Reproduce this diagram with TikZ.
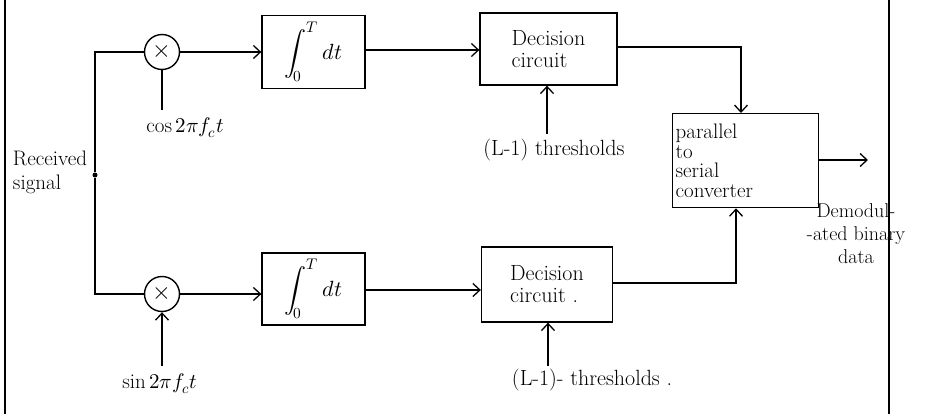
\documentclass[tikz,border=0pt]{standalone}
\usepackage{fontspec}
\usepackage{unicode-math}
\usetikzlibrary{arrows.meta}
\begin{document}
\begin{tikzpicture}[x=1pt,y=-1pt,
  fs/.style={font=\fontsize{22}{22}\selectfont},
  blk/.style={draw,line width=1.3pt,minimum width=#1,inner sep=2pt,fs},
  mult/.style={draw,circle,line width=1.4pt,minimum size=35pt,inner sep=0pt},
  wire/.style={line width=1.3pt},
  arr/.style={line width=1.3pt,-{Straight Barb[length=7pt,width=13pt]}},
  lbl/.style={fs,inner sep=1pt}]
\useasboundingbox (0,0) rectangle (933,414);
\draw[line width=2.4pt] (5,0) -- (5,414);
\draw[line width=2.4pt] (889,0) -- (889,414);
% nodes
\node[circle,fill,inner sep=0pt,minimum size=5pt] (rx) at (95,175) {};
\node[mult] (m1) at (162,52) {\fontsize{24}{24}\selectfont$\times$};
\node[mult] (m2) at (162,294) {\fontsize{24}{24}\selectfont$\times$};
\node[blk=103pt,minimum height=73pt] (i1) at (313.5,52) {$\displaystyle\int_0^T dt$};
\node[blk=103pt,minimum height=72pt] (i2) at (313.5,289) {$\displaystyle\int_0^T dt$};
\node[blk=137pt,minimum height=72pt,align=left] (d1) at (548.5,49) {Decision\\circuit};
\node[blk=131pt,minimum height=75pt,align=left] (d2) at (547,284.5) {Decision\\circuit .};
\node[blk=146pt,minimum height=94pt,align=left,anchor=north west,text width=140pt,inner sep=3pt,font=\fontsize{21}{19.5}\selectfont] (ps) at (672,113) {parallel\\to\\serial\\converter};
\node[lbl,align=left,font=\fontsize{21}{24}\selectfont] (rxl) at (50,172) {Received\\signal};
\node[lbl,font=\fontsize{21}{21}\selectfont] (cosl) at (185,128) {$\cos 2\pi f_c t$};
\node[lbl,font=\fontsize{21}{21}\selectfont] (sinl) at (160,384) {$\sin 2\pi f_c t$};
\node[lbl] (th1) at (554,150) {(L-1) thresholds};
\node[lbl] (th2) at (592,380) {(L-1)- thresholds .};
\node[lbl,align=center,font=\fontsize{20}{23}\selectfont] (out) at (856,234) {Demodul-\\-ated binary\\data};
\coordinate (tt1) at (547,134);
\coordinate (tt2) at (548,366);
\coordinate (o1) at (868,160);
\coordinate (sb) at (162,366);
\coordinate (cb) at (162,110);
% wires
\draw[wire] (rx) -- (95,52) -- (m1);
\draw[wire] (rx) -- (95,294) -- (m2);
\draw[arr] (m1) -- (i1.west|-m1);
\draw[arr] (m2) -- (i2.west|-m2);
\draw[arr] (i1.east|-0,50) -- (d1.west|-0,50);
\draw[arr] (i2.east|-0,290) -- (d2.west|-0,290);
\draw[wire] (m1) -- (cb);
\draw[arr] (sb) -- (m2);
\draw[arr] (tt1) -- (d1.south-|tt1);
\draw[arr] (tt2) -- (d2.south-|tt2);
\draw[arr] (d1.east|-0,47) -- (741,47) -- (ps.north-|741,0);
\draw[arr] (d2.east|-0,283) -- (736,283) -- (ps.south-|736,0);
\draw[arr] (ps.east|-o1) -- (o1);
\end{tikzpicture}
\end{document}
